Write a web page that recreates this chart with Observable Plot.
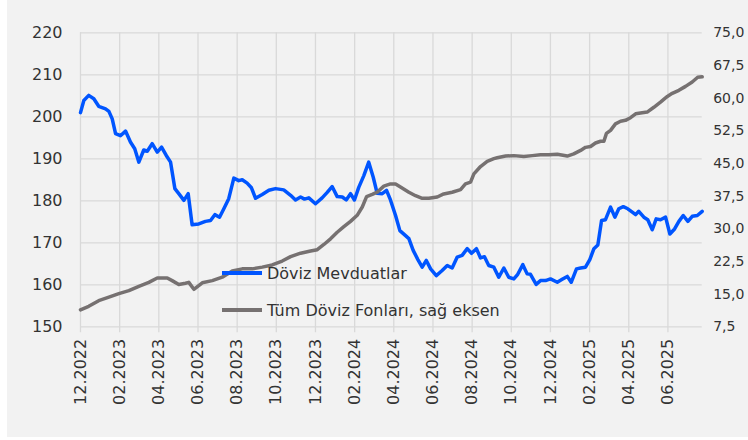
<!DOCTYPE html>
<html>
<head>
<meta charset="utf-8">
<script src="https://cdn.jsdelivr.net/npm/d3@7"></script>
<script src="https://cdn.jsdelivr.net/npm/@observablehq/plot@0.6"></script>
<style>
  html, body { margin: 0; padding: 0; background: #ffffff; }
  #wrap { position: absolute; left: 7px; top: 0; width: 741px; height: 437px; background: #f2f2f2; overflow: hidden; }
  .leg { position: absolute; left: 215px; height: 20px; display: flex; align-items: center;
         font-family: "DejaVu Sans", sans-serif; font-size: 16px; color: #333; white-space: nowrap; }
  .sw { width: 40px; height: 3.5px; margin-right: 5px; }
</style>
</head>
<body>
<div id="wrap">
  <div id="chart"></div>
  <div class="leg" id="leg1" style="top:263px"><span class="sw" id="sw1"></span><span id="t1"></span></div>
  <div class="leg" id="leg2" style="top:300px"><span class="sw" id="sw2"></span><span id="t2"></span></div>
</div>
<script>
// Series names
const seriesNames = ["Döviz Mevduatlar", "Tüm Döviz Fonları, sağ eksen"];
const seriesColors = ["#0055ff", "#767171"];

// x: months since Dec 2022
const monthTicks = [0, 2, 4, 6, 8, 10, 12, 14, 16, 18, 20, 22, 24, 26, 28, 30];
const monthLabels = ["12.2022", "02.2023", "04.2023", "06.2023", "08.2023", "10.2023", "12.2023",
  "02.2024", "04.2024", "06.2024", "08.2024", "10.2024", "12.2024", "02.2025", "04.2025", "06.2025"];

// Left axis ticks and right axis ticks
const leftTicks = [150, 160, 170, 180, 190, 200, 210, 220];
const rightTicks = [7.5, 15, 22.5, 30, 37.5, 45, 52.5, 60, 67.5, 75];

// Döviz Mevduatlar (left axis)
const depMonths = [0.00, 0.17, 0.42, 0.68, 0.93, 1.28, 1.45, 1.62, 1.79, 2.04, 2.30, 2.55, 2.77, 2.98, 3.23, 3.41,
  3.66, 3.92, 4.14, 4.38, 4.60, 4.82, 5.02, 5.28, 5.50, 5.70, 6.04, 6.38, 6.64, 6.86, 7.10, 7.32, 7.57, 7.83,
  8.08, 8.26, 8.51, 8.73, 8.94, 9.28, 9.62, 9.96, 10.38, 10.73, 10.98, 11.24, 11.44, 11.66, 12.00, 12.34, 12.60,
  12.85, 13.11, 13.37, 13.57, 13.79, 13.99, 14.21, 14.47, 14.72, 14.95, 15.15, 15.41, 15.63, 15.83, 16.09, 16.31,
  16.60, 16.77, 16.99, 17.23, 17.45, 17.66, 17.88, 18.17, 18.47, 18.73, 18.98, 19.24, 19.49, 19.75, 19.97, 20.22,
  20.43, 20.63, 20.85, 21.11, 21.36, 21.62, 21.87, 22.13, 22.33, 22.59, 22.81, 22.98, 23.27, 23.49, 23.75, 24.00,
  24.35, 24.60, 24.86, 25.06, 25.33, 25.54, 25.79, 26.01, 26.22, 26.42, 26.61, 26.81, 27.07, 27.29, 27.49, 27.72,
  27.95, 28.18, 28.35, 28.51, 28.77, 28.97, 29.20, 29.40, 29.62, 29.88, 30.10, 30.34, 30.56, 30.78, 31.02, 31.24,
  31.50, 31.75];
const depValues = [201.0, 203.9, 205.1, 204.3, 202.5, 201.9, 201.3, 199.5, 196.0, 195.5, 196.6, 194.0, 192.4, 189.2, 192.1, 191.8,
  193.6, 191.6, 192.8, 190.8, 189.2, 182.9, 181.7, 180.1, 181.7, 174.3, 174.5, 175.1, 175.3, 176.7, 176.1, 178.1, 180.5, 185.4,
  184.8, 185.0, 184.2, 183.1, 180.6, 181.5, 182.5, 182.9, 182.6, 181.3, 180.2, 180.9, 180.4, 180.7, 179.3, 180.7, 182.0,
  183.4, 181.0, 180.9, 180.2, 181.7, 180.2, 183.2, 186.0, 189.2, 185.6, 181.8, 181.7, 182.5, 180.2, 176.5, 172.9,
  171.7, 171.0, 168.2, 166.0, 164.2, 165.8, 163.8, 162.2, 163.4, 164.6, 164.0, 166.6, 167.0, 168.6, 167.5, 168.6,
  166.4, 166.7, 164.6, 164.2, 161.8, 164.0, 161.8, 161.4, 162.5, 164.8, 162.6, 162.5, 160.1, 161.0, 161.0, 161.4,
  160.6, 161.3, 162.0, 160.6, 163.8, 164.0, 164.2, 166.0, 168.6, 169.5, 175.3, 175.5, 178.5, 176.1, 178.1, 178.6,
  178.1, 177.3, 176.7, 177.5, 176.1, 175.5, 173.1, 175.7, 175.5, 176.1, 172.1, 173.3, 175.1, 176.5, 175.1, 176.3,
  176.5, 177.5];

// Tüm Döviz Fonları (right axis)
const fundMonths = [0, 0.42, 0.93, 1.45, 1.96, 2.47, 2.98, 3.49, 3.92, 4.43, 4.68, 5.02, 5.36, 5.53, 5.79, 6.22, 6.73,
  7.24, 7.75, 8.26, 8.77, 9.28, 9.79, 10.30, 10.73, 11.24, 11.75, 12.09, 12.43, 12.77, 13.11, 13.45, 13.79, 14.13,
  14.39, 14.61, 14.90, 15.15, 15.49, 15.83, 16.09, 16.34, 16.77, 17.11, 17.45, 17.79, 18.22, 18.55, 18.98, 19.41,
  19.66, 19.92, 20.09, 20.43, 20.77, 21.11, 21.28, 21.71, 22.13, 22.64, 23.07, 23.49, 23.92, 24.35, 24.86, 25.19,
  25.54, 25.79, 26.05, 26.30, 26.56, 26.73, 26.86, 27.07, 27.32, 27.58, 27.83, 28.09, 28.35, 28.60, 28.94, 29.28,
  29.62, 29.97, 30.22, 30.56, 30.90, 31.24, 31.52, 31.75];
const fundValues = [11.4, 12.2, 13.5, 14.3, 15.1, 15.8, 16.8, 17.7, 18.7, 18.7, 18.1, 17.2, 17.5, 17.7, 16.1, 17.6, 18.1,
  18.9, 20.3, 20.8, 20.8, 21.2, 21.7, 22.6, 23.6, 24.4, 24.9, 25.2, 26.4, 27.7, 29.2, 30.5, 31.7, 33.1,
  35.0, 37.4, 37.9, 38.4, 39.8, 40.3, 40.3, 39.6, 38.4, 37.6, 37.0, 37.0, 37.3, 38.0, 38.4, 39.0,
  40.3, 40.7, 42.6, 44.3, 45.5, 46.1, 46.3, 46.7, 46.8, 46.6, 46.8, 47.0, 47.0, 47.1, 46.7, 47.2,
  48.0, 48.7, 48.9, 49.7, 50.1, 50.1, 51.9, 52.6, 54.1, 54.7, 54.9, 55.5, 56.4, 56.6, 56.8, 57.9,
  59.1, 60.4, 61.1, 61.8, 62.7, 63.7, 64.8, 64.9];

// Map right-axis values onto the left scale (dual axis)
const L0 = leftTicks[0], L1 = leftTicks[leftTicks.length - 1];
const R0 = rightTicks[0], R1 = rightTicks[rightTicks.length - 1];
const toLeft = r => L0 + (r - R0) * (L1 - L0) / (R1 - R0);

const dep = depMonths.map((m, i) => ({m, v: depValues[i]}));
const fund = fundMonths.map((m, i) => ({m, v: toLeft(fundValues[i])}));
const rightPos = rightTicks.map(toLeft);
const rightLabel = r => r.toFixed(1).replace(".", ",");

const grid = "#d9d9d9";
const chart = Plot.plot({
  width: 741,
  height: 437,
  marginLeft: 73,
  marginRight: 46.3,
  marginTop: 32.3,
  marginBottom: 110.7,
  style: {background: "transparent", fontFamily: "DejaVu Sans, sans-serif", fontSize: "16px", color: "#333"},
  x: {domain: [0, 31.75]},
  y: {domain: [L0, L1]},
  marks: [
    Plot.gridY(leftTicks, {stroke: grid, strokeOpacity: 1, strokeWidth: 1.3}),
    Plot.gridX(monthTicks, {stroke: grid, strokeOpacity: 1, strokeWidth: 1.3, insetBottom: -6}),
    Plot.axisY(leftTicks, {anchor: "left", tickSize: 0, tickPadding: 18, label: null, tickFormat: d => String(d)}),
    Plot.axisY(rightPos, {anchor: "right", tickSize: 0, tickPadding: 11, label: null, fontSize: 14,
      tickFormat: (d, i) => rightLabel(rightTicks[i])}),
    Plot.axisX(monthTicks, {anchor: "bottom", tickSize: 0, tickPadding: 12, tickRotate: -90, label: null,
      tickFormat: (d, i) => monthLabels[i]}),
    Plot.line(dep, {x: "m", y: "v", stroke: seriesColors[0], strokeWidth: 3.5}),
    Plot.line(fund, {x: "m", y: "v", stroke: seriesColors[1], strokeWidth: 3.5})
  ]
});
document.getElementById("chart").appendChild(chart);

document.getElementById("sw1").style.background = seriesColors[0];
document.getElementById("sw2").style.background = seriesColors[1];
document.getElementById("t1").textContent = seriesNames[0];
document.getElementById("t2").textContent = seriesNames[1];
</script>
</body>
</html>
